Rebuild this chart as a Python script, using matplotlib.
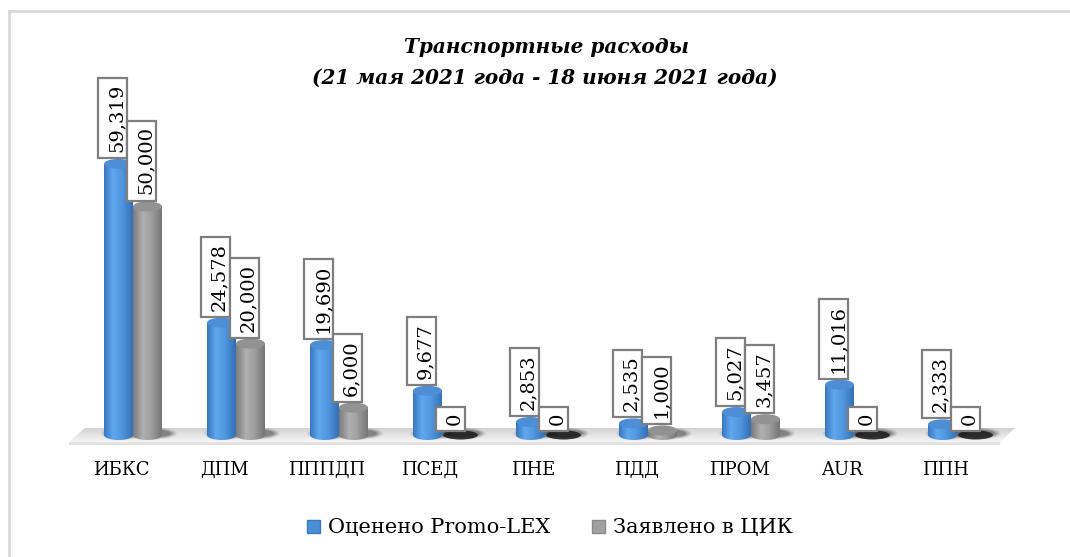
import numpy as np
import matplotlib
matplotlib.use("Agg")
import matplotlib.pyplot as plt
from matplotlib.patches import Polygon, Ellipse, Rectangle, Patch
from matplotlib.colors import LinearSegmentedColormap
from matplotlib.transforms import IdentityTransform

plt.rcParams['font.family'] = ['DejaVu Serif']

# данные
parties = ["ИБКС", "ДПМ", "ПППДП", "ПСЕД", "ПНЕ", "ПДД", "ПРОМ", "AUR", "ППН"]
promo_lex = [59319, 24578, 19690, 9677, 2853, 2535, 5027, 11016, 2333]
cec = [50000, 20000, 6000, 0, 0, 1000, 3457, 0, 0]
series_names = ["Оценено Promo-LEX", "Заявлено в ЦИК"]

W, H = 1070, 557
fig = plt.figure(figsize=(W / 100, H / 100), dpi=100)
ax = fig.add_axes([0, 0, 1, 1])

# масштаб: категория i -> пиксель 133 + 103*i, значение 0 -> пиксель 435 сверху
px_x = 1 / 103.0
px_y = 1 / 0.00457
ax.set_xlim(-133 * px_x, (W - 133) * px_x)
ax.set_ylim(-(H - 435) * px_y, 435 * px_y)
ax.axis("off")

bw = 29 * px_x        # ширина цилиндра
eh = 10 * px_y        # высота эллипса

blue_cm = LinearSegmentedColormap.from_list(
    "b", [(0, "#3877c0"), (0.3, "#60a7ee"), (0.6, "#5298e0"), (1, "#3470b5")])
gray_cm = LinearSegmentedColormap.from_list(
    "g", [(0, "#7c7c7c"), (0.35, "#b0b0b0"), (0.6, "#a2a2a2"), (1, "#767676")])
grad = np.linspace(0, 1, 64).reshape(1, -1)

# рамка
fig.add_artist(plt.Line2D([9 / W, 9 / W], [0, 1 - 11 / H], color="#d9d9d9", lw=2))
fig.add_artist(plt.Line2D([9 / W, 1], [1 - 11 / H, 1 - 11 / H], color="#d9d9d9", lw=2))

# пол
fl, fr, bl, br = -64 * px_x, 867 * px_x, -48 * px_x, 882 * px_x
yf, yb = -7 * px_y, 7 * px_y
floor = Polygon([(fl, yf), (fr, yf), (br, yb), (bl, yb)], closed=True,
                fc="none", ec="none")
ax.add_patch(floor)
floor_cm = LinearSegmentedColormap.from_list("f", ["#f6f6f6", "#d2d2d2"])
im = ax.imshow(np.linspace(0, 1, 32).reshape(-1, 1), cmap=floor_cm, origin="lower",
               extent=[fl, br, yf, yb], aspect="auto", zorder=1)
im.set_clip_path(floor)
ax.add_patch(Polygon([(fl, yf), (fr, yf), (fr, yf - 3 * px_y), (fl, yf - 3 * px_y)],
                     fc="#e2e2e2", ec="none", zorder=1))


def cylinder(xc, v, cmap, top_color):
    # тень на полу
    for k, a in enumerate([0.08, 0.10, 0.13, 0.18]):
        ax.add_patch(Ellipse((xc + 6 * px_x, 1.5 * px_y), bw * (1.6 - 0.13 * k),
                             eh * (1.2 - 0.15 * k), fc="black", alpha=a, ec="none", zorder=2))
    if v <= 0:
        ax.add_patch(Ellipse((xc + 4 * px_x, 0), bw * 1.2, eh * 0.9,
                             fc="#1a1a1a", ec="none", alpha=0.85, zorder=3))
        return
    t = np.linspace(np.pi, 2 * np.pi, 40)
    xs = xc + bw / 2 * np.cos(t)
    ys = eh / 2 * np.sin(t)
    pts = list(zip(xs, ys)) + [(xc + bw / 2, v), (xc - bw / 2, v)]
    body = Polygon(pts, closed=True, fc="none", ec="none")
    ax.add_patch(body)
    im = ax.imshow(grad, cmap=cmap, extent=[xc - bw / 2, xc + bw / 2, -eh, v],
                   aspect="auto", zorder=4)
    im.set_clip_path(body)
    ax.add_patch(Ellipse((xc, v), bw, eh, fc=top_color, ec="none", zorder=5))


PAD = 6.0     # отступ рамки подписи, px
labels = []


def label(xc, v, z):
    top = v + eh / 2 if v > 0 else eh * 0.3
    t = ax.annotate(f"{v:,}", xy=(xc, top), xytext=(-2 * 0.72, (PAD + 1) * 0.72),
                    textcoords="offset points", rotation=90, ha="center", va="bottom",
                    fontsize=14, zorder=z + 1)
    labels.append((t, z))


x = np.arange(len(parties))
for i in x:
    cylinder(i - bw / 2, promo_lex[i], blue_cm, "#4d8ed6")
    cylinder(i + bw / 2, cec[i], gray_cm, "#929292")
for i in x:
    label(i - bw / 2, promo_lex[i], 10)
for i in x:
    label(i + bw / 2, cec[i], 12)

for i, p in zip(x, parties):
    ax.text(i - 12 * px_x, -35 * px_y, p, ha="center", va="center", fontsize=13)

fig.text(547 / W, 1 - 47 / H, "Транспортные расходы", ha="center", va="center",
         fontsize=14.4, fontweight="bold", fontstyle="italic")
fig.text(545 / W, 1 - 78 / H, "(21 мая 2021 года - 18 июня 2021 года)", ha="center",
         va="center", fontsize=14.4, fontweight="bold", fontstyle="italic")

handles = [Patch(fc="#4a8fd6", ec="#3c78bb"), Patch(fc="#a0a0a0", ec="#8a8a8a")]
fig.legend(handles, series_names, loc="center", bbox_to_anchor=(550 / W, 1 - 528 / H),
           ncol=2, frameon=False, fontsize=15, handlelength=0.6, handleheight=0.6,
           handletextpad=0.4, columnspacing=2.0)

# рамки вокруг подписей (текст по центру)
fig.canvas.draw()
rend = fig.canvas.get_renderer()
for t, z in labels:
    bb = t.get_window_extent(rend)
    ax.add_patch(Rectangle((bb.x0 - PAD - 3.5, bb.y0 - PAD), bb.width + 2 * PAD - 1,
                           bb.height + 2 * PAD, transform=IdentityTransform(),
                           fc="white", ec="#7f7f7f", lw=1.6, zorder=z))

fig.savefig("out.png", dpi=100, facecolor="white")
